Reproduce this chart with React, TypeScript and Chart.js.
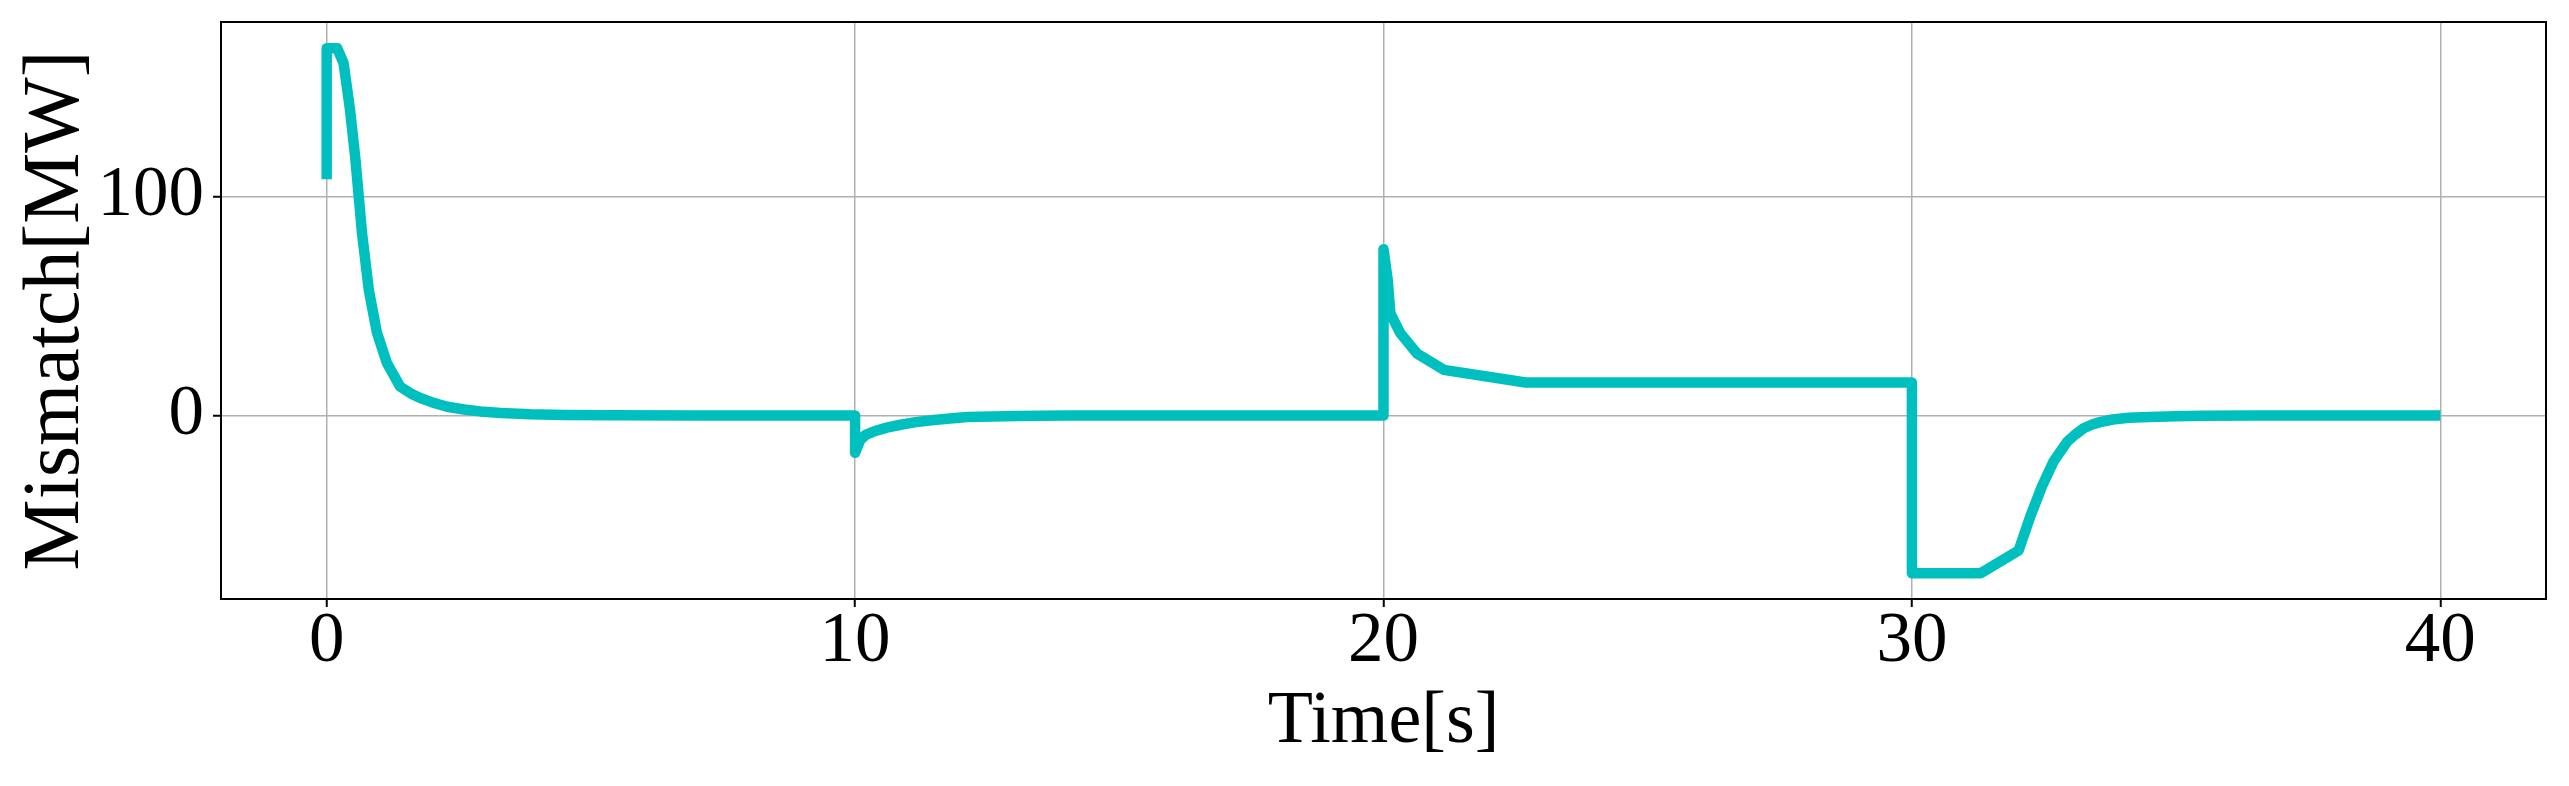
import React, { useEffect, useRef } from 'react';
import { Chart, registerables } from 'chart.js';

Chart.register(...registerables);

const W = 2569;
const H = 786;

// Time axis values [s]
const timeS = [
  0, 0, 0.2, 0.32, 0.44, 0.54, 0.67, 0.8, 0.95, 1.14, 1.39, 1.6, 1.77, 2.0, 2.28, 2.6, 2.91, 3.3, 3.85, 4.5, 5.4, 7,
  10, 10, 10.1, 10.2, 10.35, 10.6, 10.86, 11.15, 11.49, 11.8, 12.12, 12.6, 13.07, 14,
  20, 20, 20.08, 20.13, 20.32, 20.64, 21.14, 22.69,
  30, 30, 31.3, 32.02, 32.24, 32.46, 32.68, 32.94, 33.1, 33.25, 33.4, 33.56, 33.8, 34.1, 34.5, 35, 35.5, 36.5,
  40,
];

// Power mismatch values [MW]
const mismatchMW = [
  108, 167.8, 167.8, 161, 140, 118, 83, 57, 38, 24, 13.2, 10, 8, 6, 4.0, 2.8, 1.9, 1.2, 0.6, 0.3, 0.1, 0,
  0, -17, -11.1, -8.8, -7.3, -5.5, -4.2, -3.0, -2.0, -1.3, -0.7, -0.4, -0.2, 0,
  0, 76, 62, 46.7, 37.6, 28.2, 20.9, 15.1,
  15.1, -72, -72, -61.6, -46.1, -32.4, -21, -11.9, -8.5, -5.8, -4.2, -3.0, -1.8, -1.0, -0.6, -0.3, -0.1, 0,
  0,
];

const xTicks = [0, 10, 20, 30, 40];
const yTicks = [0, 100];
const xRange = [-2, 42];
const yRange = [-83.8, 179.8];
const xLabel = 'Time[s]';
const yLabel = 'Mismatch[MW]';

const FONT = "'Liberation Serif', 'Times New Roman', serif";

export default function App() {
  const ref = useRef<HTMLCanvasElement>(null);

  useEffect(() => {
    if (!ref.current) return;
    const framePlugin = {
      id: 'frame',
      afterDraw(chart: any) {
        const { ctx, chartArea: a } = chart;
        ctx.save();
        ctx.strokeStyle = '#000';
        ctx.lineWidth = 2;
        ctx.strokeRect(a.left, a.top, a.right - a.left, a.bottom - a.top);
        ctx.restore();
      },
    };

    const gridOpts = {
      color: '#b0b0b0',
      lineWidth: 1.5,
      tickColor: '#000',
      tickLength: 8,
      tickWidth: 2,
    };

    const chart = new Chart(ref.current, {
      type: 'line',
      data: {
        datasets: [
          {
            data: timeS.map((t, i) => ({ x: t, y: mismatchMW[i] })),
            borderColor: '#00bfbf',
            borderWidth: 10.5,
            pointRadius: 0,
            tension: 0,
            borderJoinStyle: 'round',
            borderCapStyle: 'butt',
            fill: false,
          },
        ],
      },
      options: {
        responsive: false,
        animation: false,
        layout: { padding: { top: 22, right: 23, left: 0, bottom: 0 } },
        plugins: { legend: { display: false }, tooltip: { enabled: false } },
        scales: {
          x: {
            type: 'linear',
            min: xRange[0],
            max: xRange[1],
            afterBuildTicks: (s: any) => {
              s.ticks = xTicks.map((v) => ({ value: v }));
            },
            afterFit: (s: any) => {
              s.height = 187;
              s.paddingLeft = 0;
              s.paddingRight = 0;
            },
            grid: gridOpts,
            border: { display: true, color: '#000', width: 2 },
            ticks: {
              color: '#000',
              font: { family: FONT, size: 71, lineHeight: 1 },
              padding: 0,
              maxRotation: 0,
              autoSkip: false,
            },
            title: {
              display: true,
              text: xLabel,
              color: '#000',
              font: { family: FONT, size: 74 },
              padding: { top: 0, bottom: 19 },
            },
          },
          y: {
            type: 'linear',
            min: yRange[0],
            max: yRange[1],
            afterBuildTicks: (s: any) => {
              s.ticks = yTicks.map((v) => ({ value: v }));
            },
            afterFit: (s: any) => {
              s.width = 221;
              s.paddingTop = 0;
              s.paddingBottom = 0;
            },
            grid: gridOpts,
            border: { display: true, color: '#000', width: 2 },
            ticks: {
              color: '#000',
              font: { family: FONT, size: 71, lineHeight: 1 },
              padding: 9,
              autoSkip: false,
            },
            title: {
              display: true,
              text: yLabel,
              color: '#000',
              font: { family: FONT, size: 80 },
              padding: { top: 9, bottom: 0 },
            },
          },
        },
      },
      plugins: [framePlugin],
    } as any);

    return () => chart.destroy();
  }, []);

  return (
    <div style={{ position: 'fixed', left: 0, top: 0, width: W, height: H, background: '#fff' }}>
      <canvas ref={ref} width={W} height={H} style={{ display: 'block' }} />
    </div>
  );
}
